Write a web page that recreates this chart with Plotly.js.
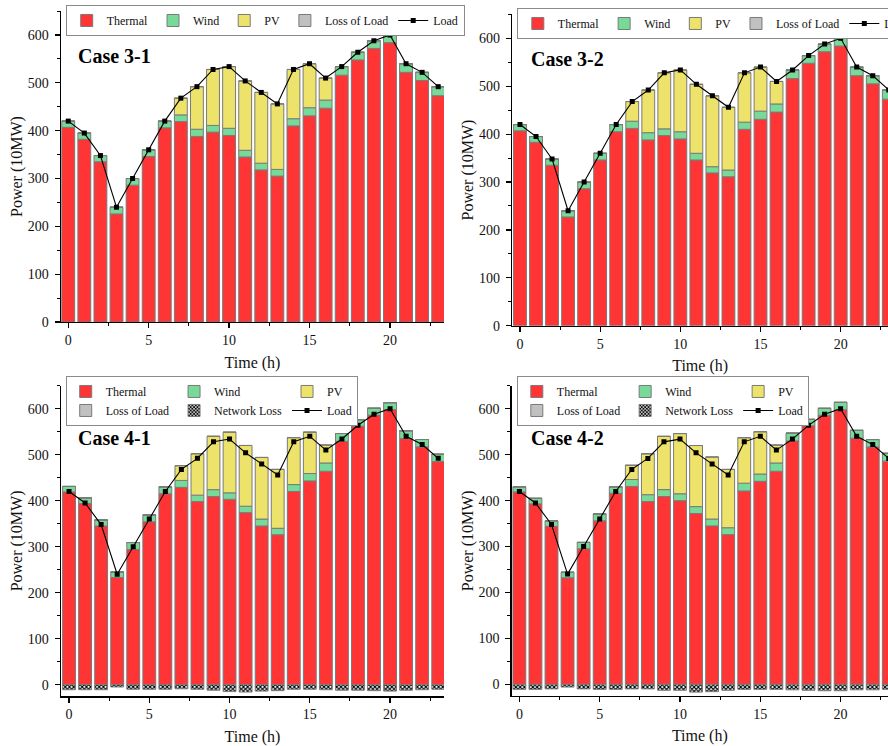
<!DOCTYPE html>
<html>
<head>
<meta charset="utf-8">
<script src="https://cdn.plot.ly/plotly-3.0.1.min.js"></script>
<style>
html,body{margin:0;padding:0;background:#fff;}
#chart{width:888px;height:746px;}
</style>
</head>
<body>
<div id="chart"></div>
<script>
// ---------- data ----------
const hours = [0,1,2,3,4,5,6,7,8,9,10,11,12,13,14,15,16,17,18,19,20,21,22,23];
const load  = [420,395,348,240,300,360,420,468,492,528,534,504,480,456,528,540,510,534,564,588,600,540,522,492];

// Case 3-1
const thermal31 = [407,382,335,226,286,346,406,419,388,397,390,345,318,305,410,431,447,516,548,572,584,522,505,473];
const wind31    = [13,13,13,14,14,14,14,14,15,14,15,14,14,14,15,17,17,18,16,16,16,18,17,19];
const pv31      = [0,0,0,0,0,0,0,35,89,117,129,145,148,137,103,92,46,0,0,0,0,0,0,0];
const lol31     = [0,0,0,0,0,0,0,0,0,0,0,0,0,0,0,0,0,0,0,0,0,0,0,0];

// Case 3-2
const thermal32 = [407,383,335,227,286,346,405,412,388,397,390,346,319,311,410,431,446,516,548,572,584,522,505,473];
const wind32    = [13,12,13,13,14,14,15,15,15,14,15,14,13,14,15,17,17,18,16,16,16,18,17,19];
const pv32      = [0,0,0,0,0,0,0,41,89,117,129,144,148,131,103,92,47,0,0,0,0,0,0,0];
const lol32     = [0,0,0,0,0,0,0,0,0,0,0,0,0,0,0,0,0,0,0,0,0,0,0,0];

// Case 4-1
const thermal41 = [419,394,345,233,294,354,415,429,398,409,403,374,345,326,420,443,464,529,562,586,598,535,517,485];
const wind41    = [12,12,13,12,15,15,15,15,14,15,14,14,15,14,15,16,18,17,14,15,15,17,16,16];
const pv41      = [0,0,0,0,0,0,0,32,90,116,132,132,134,128,102,90,39,0,0,0,0,0,0,0];
const lol41     = [0,0,0,0,0,0,0,0,0,0,0,0,0,0,0,0,0,0,0,0,0,0,0,0];
const netLoss41 = [-11,-11,-11,-5,-10,-10,-10,-9,-10,-12,-15,-16,-14,-13,-10,-10,-11,-12,-12,-13,-14,-12,-11,-10];

// Case 4-2
const thermal42 = [419,393,344,232,295,356,416,431,398,409,400,372,345,326,421,442,464,530,563,586,598,536,517,486];
const wind42    = [11,12,12,12,14,15,14,15,15,15,15,15,15,15,17,16,18,17,14,15,16,17,16,17];
const pv42      = [0,0,0,0,0,0,0,31,89,116,131,133,135,127,99,92,39,0,0,0,0,0,0,0];
const lol42     = [0,0,0,0,0,0,0,0,0,0,0,0,0,0,0,0,0,0,0,0,0,0,0,0];
const netLoss42 = [-11,-11,-10,-6,-10,-11,-11,-10,-10,-13,-13,-17,-16,-13,-11,-11,-11,-12,-13,-14,-14,-12,-12,-11];

const caseNames = ['Case 3-1','Case 3-2','Case 4-1','Case 4-2'];

// ---------- styling ----------
const F = 'Liberation Serif, Times New Roman, serif';
const C_TH = '#FF3535', C_WI = '#78DA98', C_PV = '#EEE36A', C_LL = '#C0C0C0';
const OUT = {color:'#7a7a7a', width:1};
const BW = 0.8;

const traces = [];
function panel(n, th, wi, pv, ll, nl) {
  const xa = n === 1 ? 'x' : 'x' + n;
  const ya = n === 1 ? 'y' : 'y' + n;
  const lg = n === 1 ? 'legend' : 'legend' + n;
  const grouped = !!nl;
  const g = k => grouped ? ('p' + n + k) : undefined;
  const common = {type:'bar', x:hours, xaxis:xa, yaxis:ya, legend:lg, width:BW, hoverinfo:'x+y+name'};
  traces.push(Object.assign({}, common, {name:'Thermal', y:th, marker:{color:C_TH, line:OUT}, legendgroup:g('a')}));
  traces.push(Object.assign({}, common, {name:'Wind', y:wi, marker:{color:C_WI, line:OUT}, legendgroup:g('b')}));
  traces.push(Object.assign({}, common, {name:'PV', y:pv, marker:{color:C_PV, line:OUT}, legendgroup:g('c')}));
  traces.push(Object.assign({}, common, {name:'Loss of Load', y:ll, marker:{color:C_LL, line:OUT}, legendgroup:g('a')}));
  if (nl) {
    traces.push(Object.assign({}, common, {name:'Network Loss', y:nl,
      marker:{color:'#ffffff', line:OUT, pattern:{shape:'x', fgcolor:'#000', bgcolor:'#fff', size:3, solidity:0.6}},
      legendgroup:g('b')}));
  }
  traces.push({type:'scatter', mode:'lines+markers', name:'Load', x:hours, y:load, xaxis:xa, yaxis:ya, legend:lg,
    line:{color:'#000', width:1.1}, marker:{symbol:'square', size:5, color:'#000'}, legendgroup:g('c')});
}
panel(1, thermal31, wind31, pv31, lol31, null);
panel(2, thermal32, wind32, pv32, lol32, null);
panel(3, thermal41, wind41, pv41, lol41, netLoss41);
panel(4, thermal42, wind42, pv42, lol42, netLoss42);

const tickFont = {family:F, size:14, color:'#111'};
const titleFont = {family:F, size:16, color:'#111'};
function xAxis(domain, range, anchor) {
  return {domain:domain, range:range, anchor:anchor, tickmode:'linear', tick0:0, dtick:5,
    ticks:'outside', ticklen:5, tickwidth:1.2, tickcolor:'#000',
    minor:{tick0:0, dtick:2.5, ticks:'outside', ticklen:3, tickwidth:1, tickcolor:'#000', showgrid:false},
    showline:true, linecolor:'#000', linewidth:1.4, showgrid:false, zeroline:false,
    tickfont:tickFont, automargin:true,
    title:{text:'Time (h)', font:titleFont, standoff:9}};
}
function yAxis(domain, range, anchor) {
  return {domain:domain, range:range, anchor:anchor, tickmode:'linear', tick0:0, dtick:100,
    ticks:'outside', ticklen:5, tickwidth:1.2, tickcolor:'#000',
    minor:{tick0:0, dtick:50, ticks:'outside', ticklen:3, tickwidth:1, tickcolor:'#000', showgrid:false},
    showline:true, linecolor:'#000', linewidth:1.4, showgrid:false, zeroline:false,
    tickfont:tickFont, automargin:true, ticklabelstandoff:3,
    title:{text:'Power (10MW)', font:titleFont, standoff:1}};
}
function legendCfg(x, y, grouped) {
  return {x:x, y:y, xref:'paper', yref:'paper', xanchor:'left', yanchor:'top', orientation:'h',
    bgcolor:'#ffffff', bordercolor:'#8a8a8a', borderwidth:1, font:{family:F, size:12, color:'#111'},
    traceorder: grouped ? 'grouped' : 'normal', tracegroupgap:0, itemwidth:30, valign:'middle'};
}
function caseLabel(text, x, y) {
  return {text:'<b>' + text + '</b>', x:x, y:y, xref:'paper', yref:'paper', xanchor:'left', yanchor:'middle',
    showarrow:false, font:{family:F, size:20, color:'#000'}};
}

const layout = {
  width:888, height:746, margin:{l:0, r:0, t:0, b:0, autoexpand:false},
  paper_bgcolor:'#fff', plot_bgcolor:'#fff',
  barmode:'relative', bargap:0.2, showlegend:true,
  font:{family:F, color:'#111'},
  xaxis:  xAxis([0.0687, 0.5],   [-0.45, 23.36], 'y'),
  yaxis:  yAxis([0.5684, 0.9851], [0, 650], 'x'),
  xaxis2: xAxis([0.5769, 1.0],   [-0.48, 22.95], 'y2'),
  yaxis2: yAxis([0.5634, 0.9807], [0, 650], 'x2'),
  xaxis3: xAxis([0.0687, 0.5],   [-0.5, 23.36], 'y3'),
  yaxis3: yAxis([0.0668, 0.4830], [-25, 650], 'x3'),
  xaxis4: xAxis([0.5762, 1.0],   [-0.48, 22.95], 'y4'),
  yaxis4: yAxis([0.0673, 0.4828], [-25, 650], 'x4'),
  legend:  legendCfg(0.074, 0.9933, false),
  legend2: legendCfg(0.582, 0.9893, false),
  legend3: legendCfg(0.074, 0.496, true),
  legend4: legendCfg(0.582, 0.496, true),
  annotations:[
    caseLabel(caseNames[0], 0.0856, 0.9253),
    caseLabel(caseNames[1], 0.5957, 0.9209),
    caseLabel(caseNames[2], 0.0856, 0.4130),
    caseLabel(caseNames[3], 0.5957, 0.4130)
  ]
};

Plotly.newPlot('chart', traces, layout, {displayModeBar:false, staticPlot:true});
</script>
</body>
</html>
